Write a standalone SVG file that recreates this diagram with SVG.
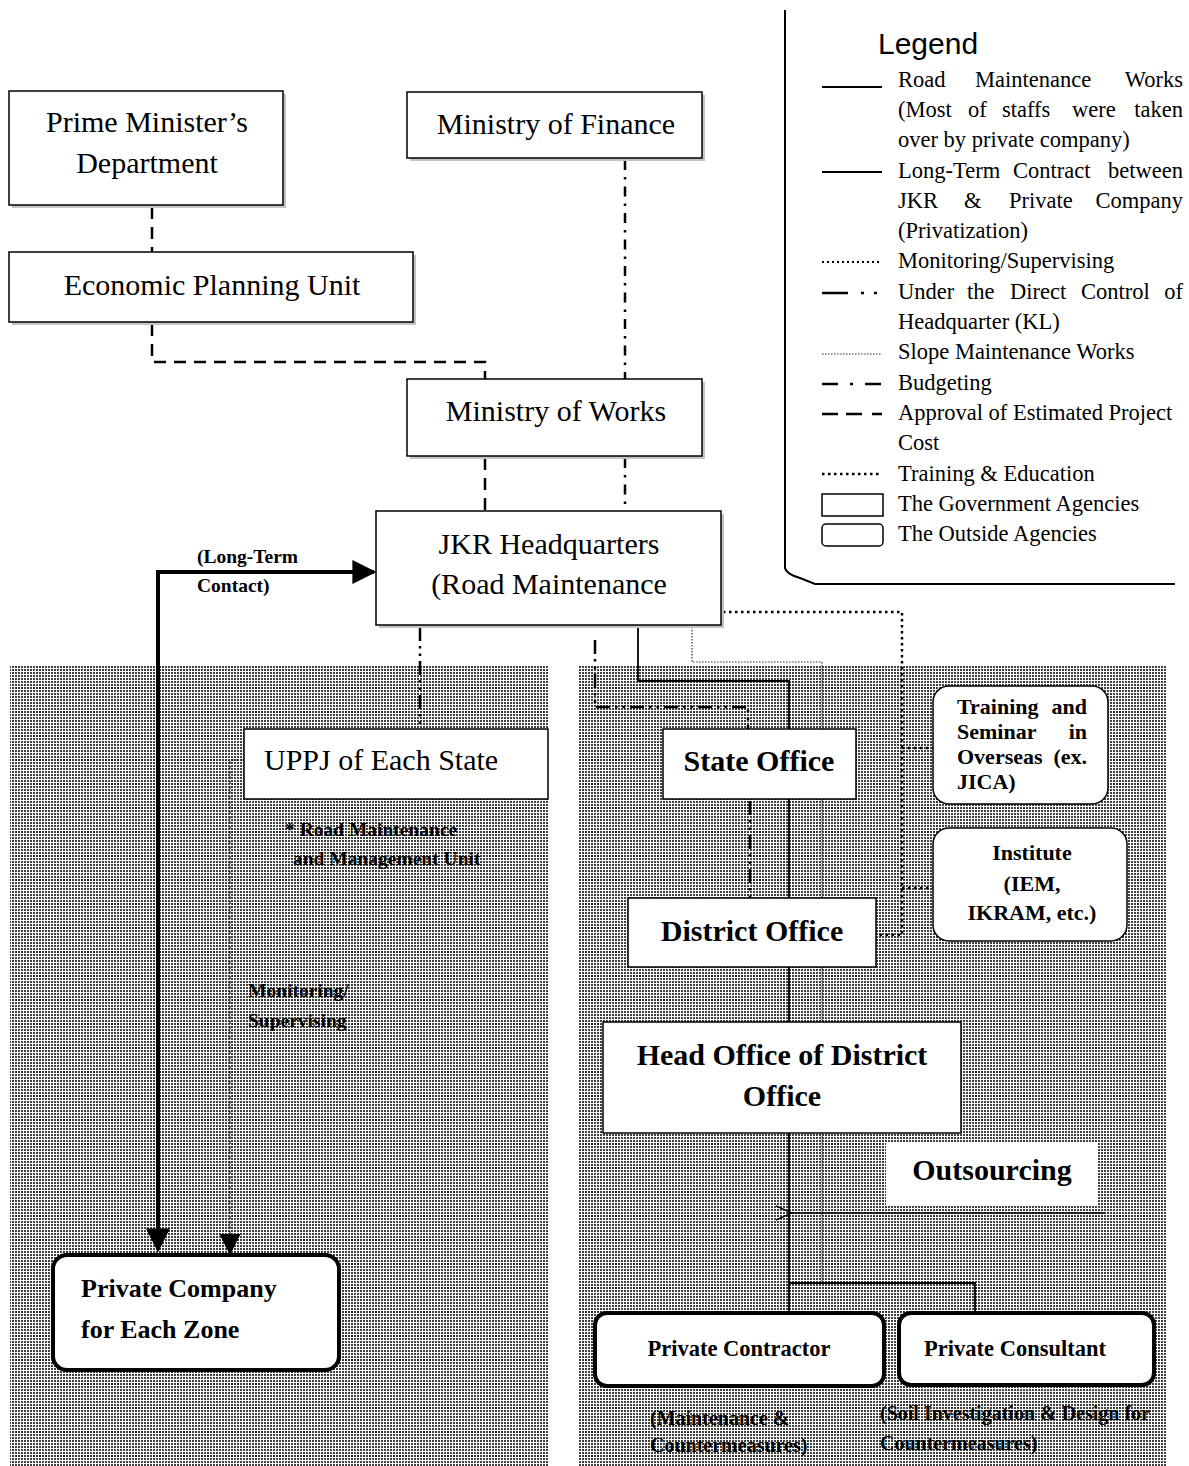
<svg xmlns="http://www.w3.org/2000/svg" width="1189" height="1466" viewBox="0 0 1189 1466">
  <defs>
    <!-- halftone dot fill for the two regional areas -->
    <pattern id="dots" width="3" height="3" patternUnits="userSpaceOnUse">
      <rect width="3" height="3" fill="#ffffff"/>
      <rect x="0" y="0" width="2" height="2" fill="#404040"/>
    </pattern>
    <marker id="solidHead" viewBox="0 0 10 10" refX="9" refY="5" markerWidth="6" markerHeight="6" markerUnits="strokeWidth" orient="auto">
      <path d="M0,0 L10,5 L0,10 Z" fill="#000"/>
    </marker>
    <marker id="thinHead" viewBox="0 0 10 10" refX="9" refY="5" markerWidth="18" markerHeight="18" markerUnits="strokeWidth" orient="auto">
      <path d="M0,0 L10,5 L0,10 Z" fill="#000"/>
    </marker>
    <marker id="openHead" viewBox="0 0 10 10" refX="1" refY="5" markerWidth="18" markerHeight="18" markerUnits="userSpaceOnUse" orient="auto">
      <path d="M10,1 L1,5 L10,9" fill="none" stroke="#000" stroke-width="0.8"/>
    </marker>
    <style>
      .serif { font-family: "Liberation Serif", "Times New Roman", serif; fill: #000; }
      .sans { font-family: "Liberation Sans", Arial, sans-serif; fill: #000; }
      .b { font-weight: bold; }
      .c { text-anchor: middle; }
      .e { text-anchor: end; }
      .gov { fill: #fff; stroke: #000; stroke-width: 1.5; }
      .shadow { fill: #c4c4c4; }
      .outside { fill: #fff; stroke: #000; stroke-width: 1.5; }
      .priv { fill: #fff; stroke: #000; stroke-width: 4; }
      .ln { fill: none; stroke: #000; }
      .road { stroke-width: 1.8; }
      .contract { stroke-width: 4; }
      .approval { stroke-width: 2.5; stroke-dasharray: 12 8; }
      .budget { stroke-width: 2.5; stroke-dasharray: 10 7 2.5 7; }
      .direct { stroke-width: 2.5; stroke-dasharray: 14 5 2.5 5 2.5 5; }
      .monitor { stroke-width: 1.2; stroke-dasharray: 3 2; stroke: #222; }
      .slope { stroke-width: 1.2; stroke-dasharray: 1.5 1.5; stroke: #333; }
      .training { stroke-width: 2.5; stroke-dasharray: 2.5 3.5; }
      .leg { font-size: 22.5px; }
      .reg { font-size: 30px; }
      .big { font-size: 30px; font-weight: bold; }
      .note { font-size: 19.5px; font-weight: bold; }
      .inst { font-size: 22px; font-weight: bold; }
    </style>
  </defs>

  <rect width="1189" height="1466" fill="#fff"/>

  <!-- regional areas -->
  <rect id="area-zones" x="10" y="665" width="538" height="801" fill="url(#dots)"/>
  <rect id="area-offices" x="578" y="665" width="588" height="801" fill="url(#dots)"/>

  <!-- legend -->
  <g id="legend">
    <path class="ln" d="M785,10 V568 Q786,574 800,578 L815,584 H1175" stroke-width="2"/>
    <text class="sans" x="878" y="54" font-size="30">Legend</text>
    <line class="ln road" x1="822" y1="87" x2="882" y2="87"/>
    <line class="ln road" x1="822" y1="172" x2="882" y2="172"/>
    <line class="ln" x1="822" y1="262" x2="882" y2="262" stroke-width="2" stroke-dasharray="2 3"/>
    <g class="ln" stroke-width="2.5">
      <line x1="822" y1="293" x2="848" y2="293"/>
      <line x1="861" y1="293" x2="864" y2="293"/>
      <line x1="874" y1="293" x2="877" y2="293"/>
    </g>
    <line class="ln slope" x1="822" y1="354" x2="882" y2="354"/>
    <g class="ln" stroke-width="2.5">
      <line x1="822" y1="384" x2="838" y2="384"/>
      <line x1="850" y1="384" x2="853" y2="384"/>
      <line x1="865" y1="384" x2="881" y2="384"/>
    </g>
    <g class="ln" stroke-width="2.5">
      <line x1="822" y1="414" x2="838" y2="414"/>
      <line x1="846" y1="414" x2="862" y2="414"/>
      <line x1="872" y1="414" x2="882" y2="414"/>
    </g>
    <line class="ln training" x1="822" y1="474" x2="882" y2="474" stroke-width="2"/>
    <rect x="822" y="494" width="61" height="22" class="gov"/>
    <rect x="822" y="524" width="61" height="22" rx="4" class="outside"/>
    <g class="serif leg">
      <text x="898" y="87">Road</text>
      <text x="975" y="87">Maintenance</text>
      <text class="e" x="1183" y="87">Works</text>
      <text x="898" y="117">(Most</text>
      <text x="968" y="117">of</text>
      <text x="1002" y="117">staffs</text>
      <text x="1072" y="117">were</text>
      <text class="e" x="1183" y="117">taken</text>
      <text x="898" y="147">over by private company)</text>
      <text x="898" y="178">Long-Term</text>
      <text x="1013" y="178">Contract</text>
      <text class="e" x="1183" y="178">between</text>
      <text x="898" y="208">JKR</text>
      <text x="964" y="208">&amp;</text>
      <text x="1009" y="208">Private</text>
      <text class="e" x="1183" y="208">Company</text>
      <text x="898" y="238">(Privatization)</text>
      <text x="898" y="268">Monitoring/Supervising</text>
      <text x="898" y="299">Under</text>
      <text x="967" y="299">the</text>
      <text x="1010" y="299">Direct</text>
      <text x="1081" y="299">Control</text>
      <text class="e" x="1183" y="299">of</text>
      <text x="898" y="329">Headquarter (KL)</text>
      <text x="898" y="359">Slope Maintenance Works</text>
      <text x="898" y="390">Budgeting</text>
      <text x="898" y="420">Approval of Estimated Project</text>
      <text x="898" y="450">Cost</text>
      <text x="898" y="481">Training &amp; Education</text>
      <text x="898" y="511">The Government Agencies</text>
      <text x="898" y="541">The Outside Agencies</text>
    </g>
  </g>

  <!-- connectors -->
  <g id="connectors">
    <!-- approval of estimated project cost -->
    <path class="ln approval" d="M152,207 V252"/>
    <path class="ln approval" d="M152,324 V362 H485 V379"/>
    <path class="ln approval" d="M485,458 V511"/>
    <!-- budgeting -->
    <path class="ln budget" d="M625,160 V379"/>
    <path class="ln budget" d="M625,458 V511"/>
    <!-- direct control of headquarters -->
    <path class="ln direct" d="M420,627 V729"/>
    <path class="ln direct" d="M595,640 V707 H748 V729"/>
    <path class="ln direct" d="M750,801 V898"/>
    <!-- road maintenance works chain -->
    <path class="ln road" d="M638,627 V681 H789 V1313"/>
    <path class="ln road" d="M789,1283 H975 V1313"/>
    <!-- slope maintenance works -->
    <path class="ln slope" d="M692,627 V662 H822 V1283"/>
    <!-- training and education -->
    <path class="ln training" d="M723,612 H902 V935 H878"/>
    <path class="ln training" d="M902,748 H933"/>
    <path class="ln training" d="M902,888 H933"/>
    <!-- long-term contract -->
    <path class="ln contract" d="M158,1250 V572 H374" marker-end="url(#solidHead)"/>
    <path class="ln contract" d="M158,600 V1250" marker-end="url(#solidHead)"/>
    <!-- monitoring / supervising -->
    <path class="ln monitor" d="M244,760 H230 V1253" marker-end="url(#thinHead)"/>
    <!-- outsourcing -->
    <path class="ln" d="M1105,1213 H792" stroke-width="1.3" marker-end="url(#openHead)"/>
    <text class="serif note" x="197" y="563">(Long-Term</text>
    <text class="serif note" x="197" y="592">Contact)</text>
    <text class="serif note" x="248" y="997">Monitoring/</text>
    <text class="serif note" x="248" y="1027">Supervising</text>
  </g>

  <!-- government agencies -->
  <g id="prime-ministers-department">
    <rect class="shadow" x="12" y="94" width="274" height="114"/>
    <rect class="gov" x="9" y="91" width="274" height="114"/>
    <text class="serif reg c" x="147" y="132">Prime Minister’s</text>
    <text class="serif reg c" x="147" y="173">Department</text>
  </g>
  <g id="ministry-of-finance">
    <rect class="shadow" x="410" y="95" width="295" height="66"/>
    <rect class="gov" x="407" y="92" width="295" height="66"/>
    <text class="serif reg c" x="556" y="134">Ministry of Finance</text>
  </g>
  <g id="economic-planning-unit">
    <rect class="shadow" x="12" y="255" width="404" height="70"/>
    <rect class="gov" x="9" y="252" width="404" height="70"/>
    <text class="serif reg c" x="212" y="295">Economic Planning Unit</text>
  </g>
  <g id="ministry-of-works">
    <rect class="shadow" x="410" y="382" width="295" height="77"/>
    <rect class="gov" x="407" y="379" width="295" height="77"/>
    <text class="serif reg c" x="556" y="421">Ministry of Works</text>
  </g>
  <g id="jkr-headquarters">
    <rect class="shadow" x="379" y="514" width="345" height="114"/>
    <rect class="gov" x="376" y="511" width="345" height="114"/>
    <text class="serif reg c" x="549" y="554">JKR Headquarters</text>
    <text class="serif reg c" x="549" y="594">(Road Maintenance</text>
  </g>
  <g id="uppj-of-each-state">
    <rect class="gov" x="244" y="729" width="304" height="70"/>
    <text class="serif reg" x="264" y="770">UPPJ of Each State</text>
    <text class="serif note" x="285" y="836">* Road Maintenance</text>
    <text class="serif note" x="293" y="865">and Management Unit</text>
  </g>
  <g id="state-office">
    <rect class="gov" x="663" y="729" width="193" height="70"/>
    <text class="serif big c" x="759" y="771">State Office</text>
  </g>
  <g id="district-office">
    <rect class="gov" x="628" y="898" width="248" height="69"/>
    <text class="serif big c" x="752" y="941">District Office</text>
  </g>
  <g id="head-office-of-district-office">
    <rect class="gov" x="603" y="1022" width="358" height="111"/>
    <text class="serif big c" x="782" y="1065">Head Office of District</text>
    <text class="serif big c" x="782" y="1106">Office</text>
  </g>
  <g id="outsourcing">
    <rect x="886" y="1143" width="211" height="62" fill="#fff"/>
    <text class="serif big c" x="992" y="1180">Outsourcing</text>
  </g>

  <!-- outside agencies -->
  <g id="training-and-seminar">
    <rect class="outside" x="933" y="686" width="175" height="118" rx="16"/>
    <g class="serif inst">
      <text x="957" y="714">Training</text>
      <text class="e" x="1087" y="714">and</text>
      <text x="957" y="739">Seminar</text>
      <text class="e" x="1087" y="739">in</text>
      <text x="957" y="764">Overseas</text>
      <text class="e" x="1087" y="764">(ex.</text>
      <text x="957" y="789">JICA)</text>
    </g>
  </g>
  <g id="institute">
    <rect class="outside" x="933" y="828" width="194" height="113" rx="16"/>
    <g class="serif inst c">
      <text x="1032" y="860">Institute</text>
      <text x="1032" y="891">(IEM,</text>
      <text x="1032" y="920">IKRAM, etc.)</text>
    </g>
  </g>
  <g id="private-company-for-each-zone">
    <rect class="priv" x="53" y="1255" width="286" height="115" rx="14"/>
    <text class="serif b" x="81" y="1297" font-size="26">Private Company</text>
    <text class="serif b" x="81" y="1338" font-size="26">for Each Zone</text>
  </g>
  <g id="private-contractor">
    <rect class="priv" x="595" y="1313" width="289" height="73" rx="12"/>
    <text class="serif b c" x="739" y="1356" font-size="22.5">Private Contractor</text>
    <text class="serif b" x="650" y="1425" font-size="20">(Maintenance &amp;</text>
    <text class="serif b" x="650" y="1452" font-size="20">Countermeasures)</text>
  </g>
  <g id="private-consultant">
    <rect class="priv" x="899" y="1313" width="255" height="72" rx="12"/>
    <text class="serif b c" x="1015" y="1356" font-size="22.5">Private Consultant</text>
    <text class="serif b" x="880" y="1420" font-size="20">(Soil Investigation &amp; Design for</text>
    <text class="serif b" x="880" y="1450" font-size="20">Countermeasures)</text>
  </g>
</svg>
